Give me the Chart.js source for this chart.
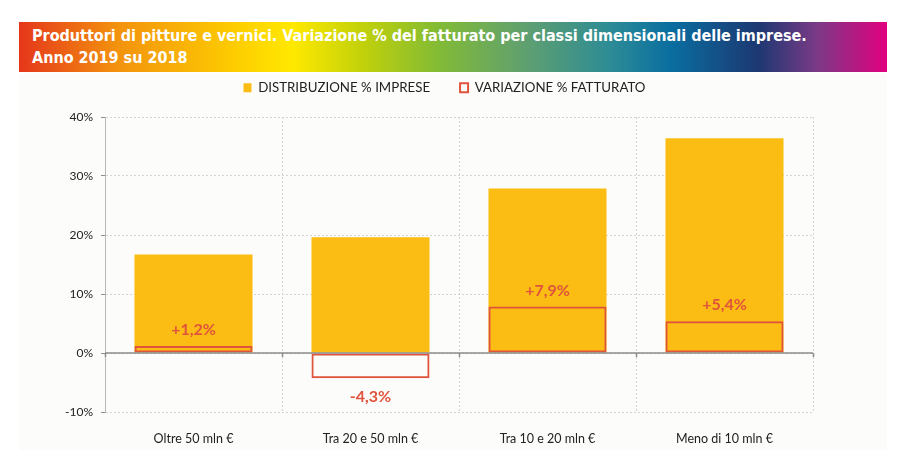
<!DOCTYPE html>
<html lang="it">
<head>
<meta charset="utf-8">
<script src="https://cdn.jsdelivr.net/npm/chart.js@4.4.1/dist/chart.umd.min.js"></script>
<style>
  html, body { margin: 0; padding: 0; background: #ffffff; }
  body { width: 910px; height: 462px; position: relative; overflow: hidden; }
  .panel { position: absolute; left: 19px; top: 74px; width: 868px; height: 376px; background: #fcfcfa; }
  #chart { position: absolute; left: 19px; top: 51px; }
  .banner {
    position: absolute; left: 19px; top: 22px; width: 868px; height: 50px; z-index: 2;
    background: linear-gradient(to right,
      #e5361b 0%, #f3920e 11.3%, #fdcb00 24.6%, #ffe900 31.5%, #c2d10a 39.5%,
      #82bb35 48.3%, #5fa070 58.3%, #2c8b96 68.3%, #0a6ea0 75.1%,
      #1c3872 85.1%, #7a3a86 91.9%, #e2007f 100%);
  }
  .banner h1 {
    margin: 0; position: absolute; left: 13px; top: 3px;
    color: #fff; font-family: "Liberation Sans Narrow", "DejaVu Sans Condensed", sans-serif;
    font-weight: bold; font-size: 16px; line-height: 22px; white-space: nowrap;
  }
</style>
</head>
<body>
<div class="panel"></div>
<canvas id="chart" width="868" height="399"></canvas>
<div class="banner"><h1>Produttori di pitture e vernici. Variazione % del fatturato per classi dimensionali delle imprese.<br>Anno 2019 su 2018</h1></div>
<script>
const categories = ['Oltre 50 mln €', 'Tra 20 e 50 mln €', 'Tra 10 e 20 mln €', 'Meno di 10 mln €'];
const distribuzione = [16.7, 19.6, 27.9, 36.4];
const variazione = [1.2, -4.3, 7.9, 5.4];
const variazioneLabels = ['+1,2%', '-4,3%', '+7,9%', '+5,4%'];
const seriesNames = ['DISTRIBUZIONE % IMPRESE', 'VARIAZIONE % FATTURATO'];

const GIALLO = '#fbbd13';
const ROSSO = '#e0533d';

// legenda ad altezza fissa e centrata sul pannello, etichette sulle barre rosse, linea dello zero
const extras = {
  id: 'extras',
  beforeInit(chart) {
    const fit = chart.legend.fit;
    chart.legend.fit = function () {
      fit.call(this);
      this.height = 66;
    };
  },
  afterLayout(chart) {
    chart.legend.left += 28.5;
    chart.legend.right += 28.5;
  },
  afterDatasetsDraw(chart) {
    const ctx = chart.ctx;
    const x = chart.scales.x;
    const y = chart.scales.y;
    const y0 = y.getPixelForValue(0);
    ctx.save();
    ctx.strokeStyle = '#8c8c8c';
    ctx.lineWidth = 1.5;
    ctx.beginPath();
    ctx.moveTo(chart.chartArea.left, y0);
    ctx.lineTo(chart.chartArea.right, y0);
    const step = x.getPixelForValue(1) - x.getPixelForValue(0);
    for (let i = 0; i <= categories.length; i++) {
      const px = Math.round(x.getPixelForValue(i) - step / 2) + 0.5;
      ctx.moveTo(px, y0);
      ctx.lineTo(px, y0 + 4);
    }
    ctx.stroke();

    const meta = chart.getDatasetMeta(1);
    ctx.fillStyle = ROSSO;
    ctx.font = 'bold 16px Lato, sans-serif';
    ctx.textAlign = 'center';
    ctx.textBaseline = 'middle';
    meta.data.forEach((bar, i) => {
      const neg = variazione[i] < 0;
      ctx.fillText(variazioneLabels[i], bar.x, neg ? bar.y + 18 : bar.y - 16);
    });
    ctx.restore();
  }
};

new Chart(document.getElementById('chart'), {
  type: 'bar',
  data: {
    labels: categories,
    datasets: [
      {
        label: seriesNames[0],
        data: distribuzione,
        backgroundColor: GIALLO,
        borderWidth: 0,
        order: 1
      },
      {
        label: seriesNames[1],
        data: variazione,
        backgroundColor: 'rgba(0,0,0,0)',
        borderColor: ROSSO,
        borderWidth: 2,
        borderSkipped: false,
        order: 0
      }
    ]
  },
  options: {
    responsive: false,
    animation: false,
    events: [],
    layout: { padding: { left: 0, right: 74, top: 0, bottom: 0 } },
    datasets: { bar: { barPercentage: 0.667, categoryPercentage: 1 } },
    scales: {
      x: {
        stacked: true,
        afterFit(scale) { scale.height = 38; },
        grid: { color: '#d4d4d4', lineWidth: 1, drawTicks: false, offset: true },
        border: { display: false, dash: [2, 2] },
        ticks: { color: '#222', font: { family: 'Lato', size: 12.5 }, padding: 19 }
      },
      y: {
        stacked: false,
        min: -10,
        max: 40,
        afterFit(scale) { scale.width = 86; },
        grid: { color: '#d4d4d4', lineWidth: 1, tickLength: 4, tickColor: '#8c8c8c' },
        border: { color: '#b8b8b8', dash: [2, 2] },
        ticks: {
          stepSize: 10,
          color: '#222',
          font: { family: 'Lato', size: 12 },
          padding: 8,
          callback: v => v + '%'
        }
      }
    },
    plugins: {
      legend: {
        position: 'top',
        labels: {
          boxWidth: 8,
          boxHeight: 9,
          padding: 30,
          color: '#222',
          font: { family: 'Lato', size: 13.3 },
          sort: (a, b) => a.datasetIndex - b.datasetIndex
        }
      },
      tooltip: { enabled: false }
    }
  },
  plugins: [extras]
});
</script>
</body>
</html>
